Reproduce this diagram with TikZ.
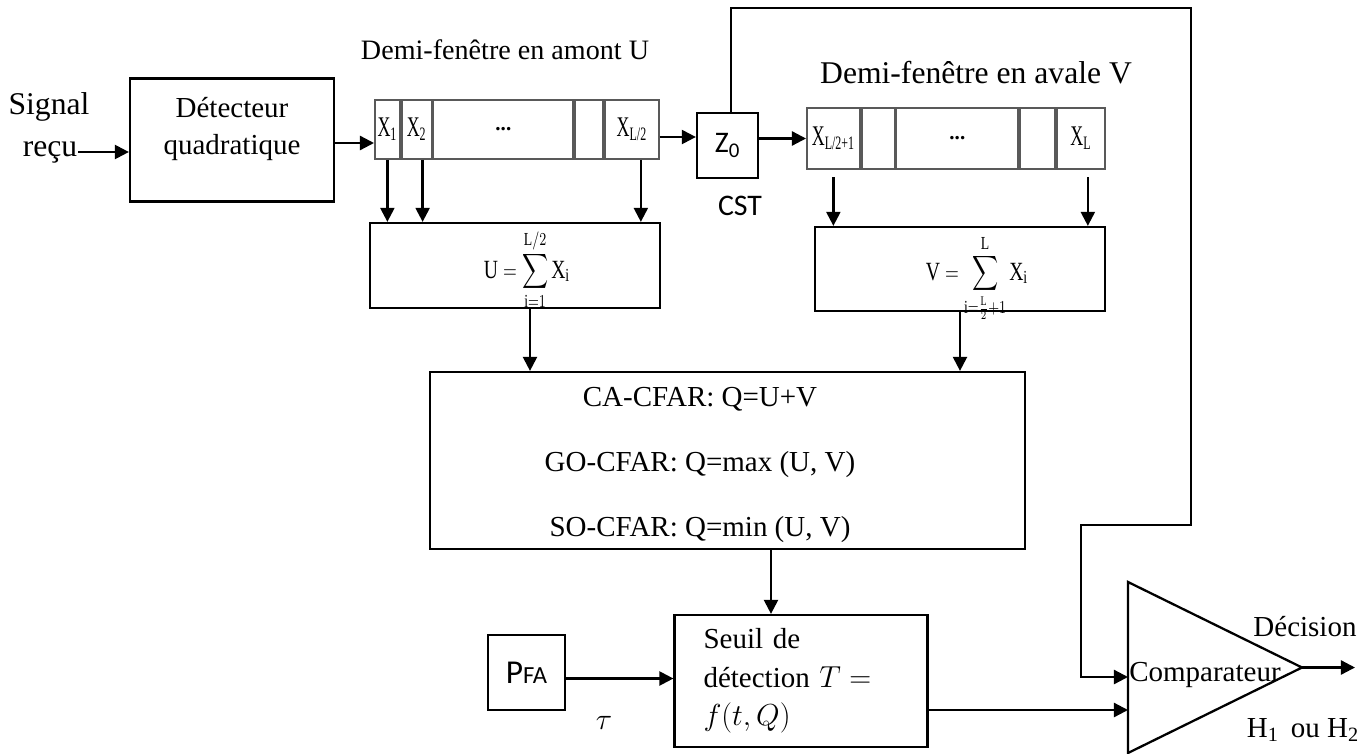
\documentclass[tikz,border=0pt]{standalone}
\usepackage{fontspec}
\setmainfont{Liberation Serif}
\newfontfamily\calfont{Carlito}
\usepackage{amsmath, graphicx}
\usetikzlibrary{arrows.meta, positioning}
\newcommand{\cellx}[1]{\scalebox{0.85}[1.35]{#1}}
\newcommand{\sumx}[1]{\scalebox{0.86}[1.15]{$\displaystyle #1$}}
\tikzstyle{box}=[draw, inner sep=0pt]
\tikzstyle{cell}=[draw=black!65, line width=1pt, inner sep=0pt, minimum height=1.18cm, font=\fontsize{12}{14}\selectfont]
\tikzstyle{lbl}=[inner sep=0pt, font=\fontsize{16.5}{22}\selectfont]
\tikzstyle{sans}=[font=\calfont\fontsize{17}{20}\selectfont]
\tikzstyle{arr}=[-{Triangle[length=8pt, width=8pt]}]

\begin{document}
\begin{tikzpicture}[x=0.02cm, y=0.02cm, line width=1.3pt]
    \useasboundingbox (0,0) rectangle (1370,-754);

    % input and square-law detector
    \node [lbl, font=\fontsize{18}{22}\selectfont] (sig) at (49,-107) {Signal};
    \node [lbl, font=\fontsize{18}{22}\selectfont] (recu) at (50,-152) {reçu};
    \node [box, minimum width=4.08cm, minimum height=2.46cm] (det) at (232,-140) {};
    \node [lbl, align=center, font=\fontsize{16.5}{21.5}\selectfont] (dettxt) at (232,-129) {Détecteur\\quadratique};

    % leading half-window U
    \node [font=\fontsize{16}{18}\selectfont] (tu) at (505,-50) {Demi-fenêtre en amont U};
    \node [cell, minimum width=0.5cm, anchor=west] (u1) at (374,-129.5) {\cellx{X\textsubscript{1}}};
    \node [cell, minimum width=0.6cm, right=0pt of u1] (u2) {\cellx{X\textsubscript{2}}};
    \node [cell, minimum width=2.8cm, right=0pt of u2] (u3) {\textbf{...}};
    \node [cell, minimum width=0.56cm, right=0pt of u3] (u4) {};
    \node [cell, minimum width=1.08cm, right=0pt of u4] (u5) {\cellx{X\textsubscript{L/2}}};

    % cell under test
    \node [box, sans, minimum width=1.22cm, minimum height=1.3cm] (z) at (727.5,-145.5) {Z\textsubscript{0}};
    \node [sans] (cst) at (740,-206) {CST};

    % lagging half-window V
    \node [font=\fontsize{18}{20}\selectfont] (tv) at (976,-73) {Demi-fenêtre en avale V};
    \node [cell, minimum height=1.22cm, minimum width=1.06cm, anchor=west] (v1) at (806,-138.5) {\cellx{X\textsubscript{L/2+1}}};
    \node [cell, minimum height=1.22cm, minimum width=0.66cm, right=0pt of v1] (v2) {};
    \node [cell, minimum height=1.22cm, minimum width=2.44cm, right=0pt of v2] (v3) {\textbf{...}};
    \node [cell, minimum height=1.22cm, minimum width=0.7cm, right=0pt of v3] (v4) {};
    \node [cell, minimum height=1.22cm, minimum width=0.96cm, right=0pt of v4] (v5) {\cellx{X\textsubscript{L}}};

    % sums
    \node [box, minimum width=5.8cm, minimum height=1.7cm] (su) at (515,-265.5) {};
    \node [anchor=base, inner sep=0pt, font=\fontsize{13}{15}\selectfont] (sumu) at (527,-278)
        {\sumx{\mathrm{U}=\sum_{\mathrm{i}=1}^{\mathrm{L}/2}\mathrm{X}_{\mathrm{i}}}};
    \node [box, minimum width=5.8cm, minimum height=1.68cm] (sv) at (960,-269) {};
    \node [anchor=base, inner sep=0pt, font=\fontsize{13}{15}\selectfont] (sumv) at (977,-280)
        {\sumx{\mathrm{V}=\sum_{\mathrm{i}=\frac{\mathrm{L}}{2}+1}^{\mathrm{L}}\mathrm{X}_{\mathrm{i}}}};

    % CFAR variants
    \node [box, minimum width=11.9cm, minimum height=3.54cm] (cfar) at (727.5,-460.5) {};
    \node [lbl, align=center, font=\fontsize{16.5}{37}\selectfont] (cfartxt) at (700,-465)
        {CA-CFAR: Q=U+V\\GO-CFAR: Q=max (U, V)\\SO-CFAR: Q=min (U, V)};

    % threshold
    \node [box, lbl, text width=3.9cm, align=left, inner xsep=0.58cm, minimum width=5.04cm, minimum height=2.64cm] (seuil) at (801,-681)
        {Seuil de\\détection $T=$\\$f(t,Q)$};
    \node [box, minimum width=1.54cm, minimum height=1.5cm, font=\calfont\fontsize{19}{20}\selectfont] (pfa) at (526.5,-672.5)
        {P{\fontsize{14}{15}\selectfont FA}};
    \node [lbl] (tau) at (604,-723) {$\tau$};

    % comparator
    \coordinate (cmpT) at (1128,-582);
    \coordinate (cmpB) at (1128,-753);
    \coordinate (cmpP) at (1302,-667.5);
    \coordinate (cmpin1) at (1128,-677);
    \coordinate (cmpin2) at (1128,-710);
    \coordinate (fbtop) at (1191,-8);
    \coordinate (fbmid) at (1081,-525);
    \coordinate (dec) at (1355,-667.5);
    \draw (cmpT) -- (cmpP) -- (cmpB) -- cycle;
    \node [lbl] (cmplbl) at (1205,-675) {Comparateur};
    \node [lbl] (declbl) at (1305,-627) {Décision};
    \node [lbl] (hyp) at (1303,-730) {H\textsubscript{1}\, ou H\textsubscript{2}};

    % connections
    \draw [arr] (recu.east) -- (recu.east -| det.west);
    \draw [arr] ([yshift=-0.06cm]det.east) -- ([yshift=-0.06cm]det.east -| u1.west);
    \draw [arr] ([yshift=-0.15cm]u5.east) -- ([yshift=-0.15cm]u5.east -| z.west);
    \draw [arr] (z.east |- v1.west) -- (v1.west);
    \draw [arr] (u1.south) -- (u1.south |- su.north);
    \draw [arr] ([xshift=0.12cm]u2.south) -- ([xshift=0.12cm]u2.south |- su.north);
    \draw [arr] ([xshift=0.18cm]u5.south) -- ([xshift=0.18cm]u5.south |- su.north);
    \draw [arr] ([yshift=-0.15cm]v1.south) -- (v1.south |- sv.north);
    \draw [arr] ([xshift=0.14cm, yshift=-0.15cm]v5.south) -- ([xshift=0.14cm]v5.south |- sv.north);
    \draw [arr] ([xshift=0.3cm]su.south) -- ([xshift=0.3cm]su.south |- cfar.north);
    \draw [arr] (sv.south) -- (sv.south |- cfar.north);
    \draw [arr] ([xshift=0.87cm]cfar.south) -- ([xshift=0.87cm]cfar.south |- seuil.north);
    \draw [arr] ([yshift=-0.12cm]pfa.east) -- ([yshift=-0.12cm]pfa.east -| seuil.west);
    \draw [arr] ([xshift=0.07cm]z.north) |- (fbtop) |- (fbmid) |- (cmpin1);
    \draw [arr] (seuil.east |- cmpin2) -- (cmpin2);
    \draw [arr] (cmpP) -- (dec);
\end{tikzpicture}
\end{document}
